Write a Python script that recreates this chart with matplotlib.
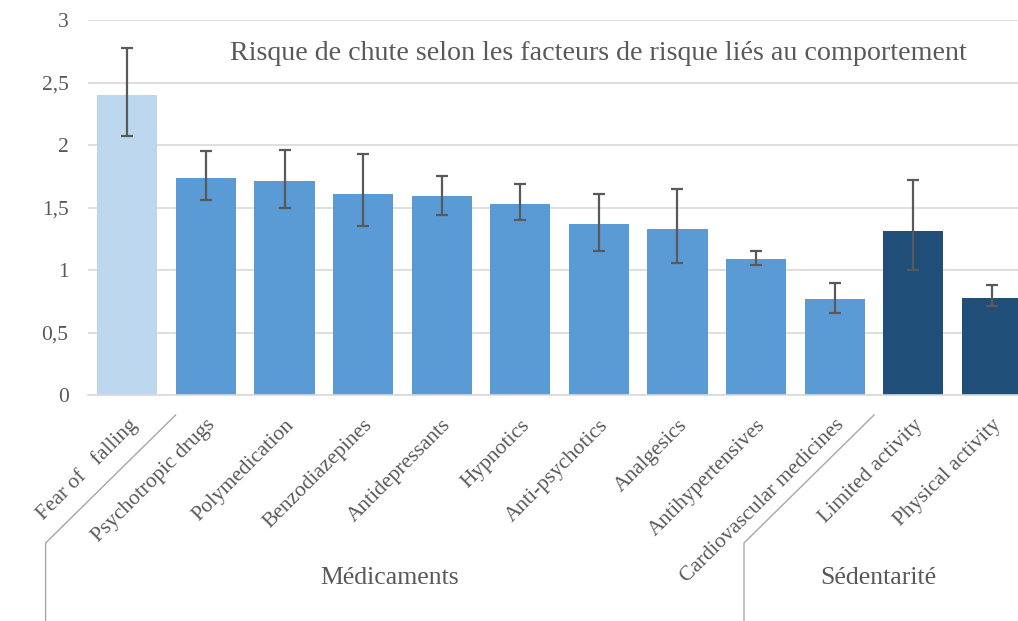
import numpy as np
import matplotlib
matplotlib.use("Agg")
import matplotlib.pyplot as plt
from matplotlib.lines import Line2D
from matplotlib.ticker import FuncFormatter

# data
categories = ["Fear of   falling", "Psychotropic drugs", "Polymedication",
              "Benzodiazepines", "Antidepressants", "Hypnotics",
              "Anti-psychotics", "Analgesics", "Antihypertensives",
              "Cardiovascular medicines", "Limited activity", "Physical activity"]
values = [2.40, 1.74, 1.71, 1.61, 1.59, 1.53, 1.37, 1.33, 1.09, 0.77, 1.31, 0.78]
err_high = [2.78, 1.95, 1.96, 1.93, 1.75, 1.69, 1.61, 1.65, 1.15, 0.90, 1.72, 0.88]
err_low = [2.07, 1.56, 1.50, 1.35, 1.44, 1.40, 1.15, 1.06, 1.04, 0.66, 1.00, 0.71]
groups = ["", "Médicaments", "Sédentarité"]
group_of = [0, 1, 1, 1, 1, 1, 1, 1, 1, 1, 2, 2]
yticks = [0, 0.5, 1, 1.5, 2, 2.5, 3]
title = "Risque de chute selon les facteurs de risque liés au comportement"

group_colors = ["#BDD7EE", "#5B9BD5", "#1F4E79"]
grey = "#595959"
W, H = 1018, 621

plt.rcParams['font.family'] = ['Liberation Serif', 'DejaVu Serif']

fig = plt.figure(figsize=(W / 100, H / 100), dpi=100)
ax = fig.add_axes([88 / W, (H - 395) / H, 12 * 78.6 / W, 375 / H])

x = np.arange(len(categories))
vals = np.array(values)
yerr = np.vstack([vals - np.array(err_low), np.array(err_high) - vals])
colors = [group_colors[g] for g in group_of]

ax.bar(x, vals, width=0.765, color=colors, zorder=2)
ax.errorbar(x, vals, yerr=yerr, fmt="none", ecolor=grey, elinewidth=1.6,
            capsize=4.2, capthick=1.6, zorder=3)

ax.set_xlim(-0.5, len(categories) - 0.5)
ax.set_ylim(0, 3)
ax.set_yticks(yticks)
ax.yaxis.set_major_formatter(FuncFormatter(lambda v, p: ("%g" % v).replace(".", ",")))
ax.tick_params(axis="y", length=0, pad=14, labelsize=15.5, labelcolor=grey)
ax.grid(axis="y", color="#D9D9D9", lw=1.2, zorder=0)
ax.set_axisbelow(True)
for s in ["left", "right", "top"]:
    ax.spines[s].set_visible(False)
ax.spines["bottom"].set_color("#D9D9D9")
ax.spines["bottom"].set_linewidth(1.2)

ax.set_xticks(x)
ax.set_xticklabels(categories, rotation=45, ha="right", rotation_mode="anchor",
                   fontsize=15.5, color=grey)
ax.tick_params(axis="x", length=0, pad=15)

fig.text(598 / W, 1 - 54 / H, title, ha="center", va="center",
         fontsize=20.2, color=grey)

# group labels
fig.text(390 / W, 1 - 578 / H, groups[1], ha="center", va="center",
         fontsize=18.5, color=grey)
fig.text(878 / W, 1 - 578 / H, groups[2], ha="center", va="center",
         fontsize=18.5, color=grey)

# group separator lines (Excel multi-level axis)
fig.canvas.draw()
for b, dx in [(0.5, 9), (9.5, 0)]:
    px, py = ax.transData.transform((b, 0))
    top = (px + dx, py - 20)
    bot = (top[0] - 130, top[1] - 128)
    pts = [top, bot, (bot[0], 0)]
    xs = [p[0] / W for p in pts]
    ys = [p[1] / H for p in pts]
    fig.add_artist(Line2D(xs, ys, transform=fig.transFigure, color="#A6A6A6", lw=1.0))

fig.savefig("out.png", dpi=100)
